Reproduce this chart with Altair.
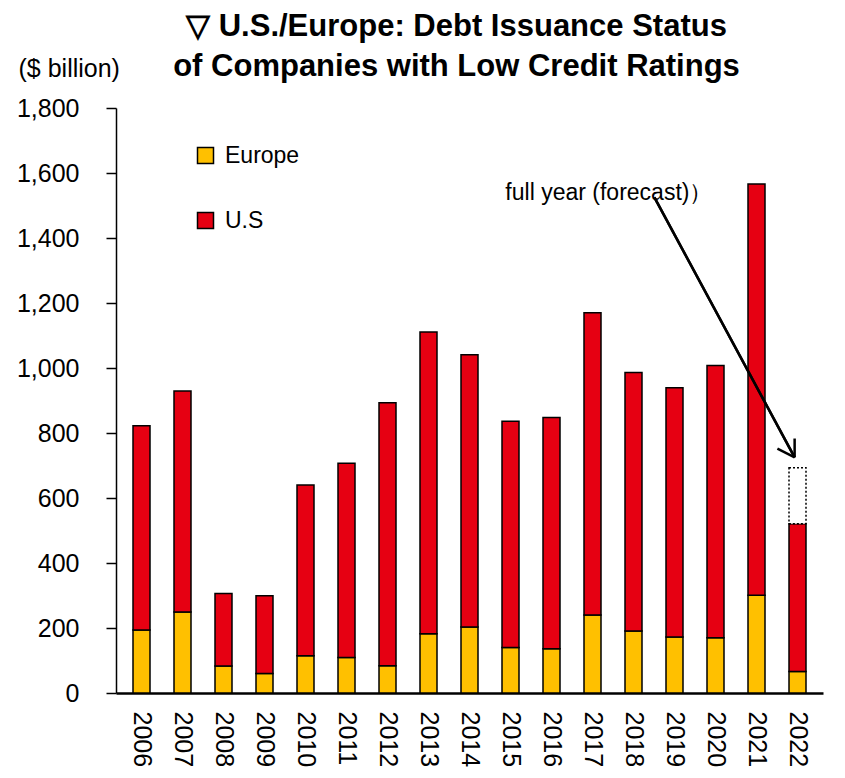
import altair as alt
import pandas as pd

years = list(range(2006, 2023))
europe = [194, 249, 83, 60, 115, 109, 84, 182, 203, 140, 136, 240, 191, 172, 170, 301, 66]
us = [628, 680, 223, 239, 525, 598, 809, 929, 838, 696, 712, 930, 795, 767, 838, 1265, 455]
forecast_year = [2022]
forecast_total = [693]

note_text = ["full year (forecast)）"]
note_x = [2017.4]
note_y = [1537]
arrow_x = [2018.51, 2021.93, 2021.93, 2021.93]
arrow_y = [1525, 725, 725, 725]
arrow_x2 = [2021.93, 2018.51, 2021.51, 2021.93]
arrow_y2 = [725, 1525, 752, 783]

FONT = "Liberation Sans"
YEL = "#FFC000"
RED = "#E60012"

rows = []
for i, yr in enumerate(years):
    rows.append({"year": yr, "region": "Europe", "value": europe[i], "ord": 0})
    rows.append({"year": yr, "region": "U.S", "value": us[i], "ord": 1})
df = pd.DataFrame(rows)

xscale = alt.Scale(domain=[2005.5, 2022.5], nice=False, zero=False)
yscale = alt.Scale(domain=[0, 1800], nice=False)

bars = alt.Chart(df).mark_bar(size=17, stroke="black", strokeWidth=1.5).encode(
    x=alt.X("year:Q", scale=xscale, axis=alt.Axis(
        values=years, format="d", labelAngle=90, labelAlign="left", labelBaseline="middle",
        labelFontSize=25, labelFont=FONT, labelColor="black", ticks=False, labelPadding=18,
        domainColor="black", domainWidth=2.5, grid=False, title=None, labelFlush=False, labelOverlap=False)),
    y=alt.Y("value:Q", stack="zero", scale=yscale, axis=alt.Axis(
        values=list(range(0, 1801, 200)), format=",d", labelFontSize=25, labelFont=FONT,
        labelColor="black", tickSize=10, tickColor="black", tickWidth=1.5, labelPadding=27,
        domainColor="black", domainWidth=1.5, grid=False,
        title="($ billion)", titleAngle=0, titleX=-98, titleY=-40, titleAlign="left",
        titleBaseline="middle", titleFont=FONT, titleFontSize=25, titleFontWeight="normal",
        titleColor="black")),
    color=alt.Color("region:N", scale=alt.Scale(domain=["Europe", "U.S"], range=[YEL, RED]),
                    legend=alt.Legend(orient="none", legendX=78, legendY=36, title=None,
                                      symbolType="square", symbolSize=256,
                                      symbolStrokeColor="black", symbolStrokeWidth=1.5,
                                      labelFont=FONT, labelFontSize=23, labelColor="black",
                                      rowPadding=41, labelOffset=8)),
    order=alt.Order("ord:Q"),
)

fc = alt.Chart(pd.DataFrame({"year": forecast_year, "top": forecast_total,
                             "base": [europe[-1] + us[-1]]})).mark_bar(
    size=17, stroke="black", strokeWidth=1.5, strokeDash=[2, 2], fill="white"
).encode(x=alt.X("year:Q", scale=xscale), y=alt.Y("base:Q", scale=yscale), y2="top:Q")

arrow = alt.Chart(pd.DataFrame({"x": arrow_x, "y": arrow_y, "x2": arrow_x2, "y2": arrow_y2})).mark_rule(
    color="black", strokeWidth=2.5).encode(
    x=alt.X("x:Q", scale=xscale), y=alt.Y("y:Q", scale=yscale), x2="x2:Q", y2="y2:Q")

note = alt.Chart(pd.DataFrame({"x": note_x, "y": note_y, "t": note_text})).mark_text(
    font=FONT, fontSize=23, color="black", align="center", baseline="middle").encode(
    x=alt.X("x:Q", scale=xscale), y=alt.Y("y:Q", scale=yscale), text="t:N")

chart = alt.layer(bars, fc, arrow, note).properties(
    width=707, height=585,
    autosize=alt.AutoSizeParams(type="none"),
    padding={"left": 108, "top": 100, "right": 14, "bottom": 77},
    title=alt.TitleParams(
        ["▽ U.S./Europe: Debt Issuance Status", "of Companies with Low Credit Ratings"],
        font=FONT, fontSize=31, fontWeight="bold", color="black", anchor="middle",
        lineHeight=40, offset=18, dx=-13, dy=45),
).configure_view(stroke=None)

chart.save("out.html", embed_options={"renderer": "svg", "actions": False})
